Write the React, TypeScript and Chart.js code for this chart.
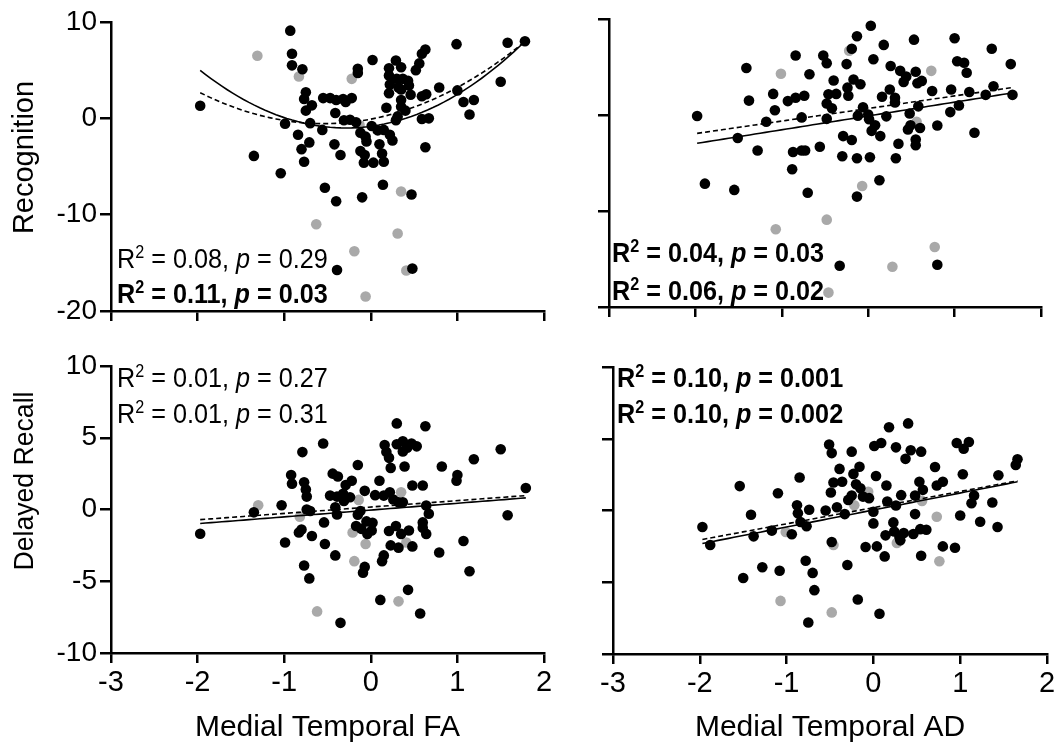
import React, { useEffect, useRef } from "react";
import { Chart, registerables } from "chart.js";

Chart.register(...registerables);

const FONT = "'Liberation Sans', Arial, Helvetica, sans-serif";

// ---------- data ----------
const xRange = [-3, 2];
const recogRange = [-20, 10];
const recallRange = [-10, 10];
const xTitles = ["Medial Temporal FA", "Medial Temporal AD"];
const yTitles = ["Recognition", "Delayed Recall"];

const faRecogBlack: number[][] = [
  [-1.97, 1.3], [-0.93, 9.1], [-0.91, 6.7], [-0.91, 5.5], [-0.79, 5.1], [-0.75, 2.7], [-0.77, 2.0], [-0.68, 1.35],
  [-0.75, 0.8], [-0.55, 2.1], [-0.99, -0.55], [-0.7, -0.5], [-0.56, -1.2], [-0.84, -1.7], [-0.71, -2.5], [-0.8, -3.2],
  [-0.77, -4.5], [-1.35, -3.9], [-1.04, -5.7], [-0.53, -7.2], [-0.47, 2.1], [-0.4, 1.9], [-0.32, 2.0], [-0.29, 1.7],
  [-0.22, 2.1], [-0.41, 0.55], [-0.31, -0.2], [-0.24, -0.15], [-0.17, -0.4], [-0.42, -2.7], [-0.35, -3.8], [-0.4, -8.6],
  [-0.1, -8.2], [0.14, -6.9], [0.47, -7.9], [-0.39, -15.75], [0.48, -15.6], [-0.15, 5.15], [-0.15, 4.7], [0.02, 6.05],
  [0.29, 6.0], [0.21, 5.2], [0.35, 5.3], [0.21, 4.45], [0.3, 4.1], [0.37, 4.1], [0.43, 3.9], [0.22, 3.5], [0.32, 3.2],
  [0.35, 3.0], [0.44, 3.4], [0.21, 2.6], [0.46, 2.45], [0.35, 1.9], [0.35, 1.2], [0.4, 0.8], [0.18, 1.1], [0.31, 0.2],
  [0.29, -0.2], [0.52, 5.0], [0.56, 5.7], [0.59, 6.7], [0.63, 7.15], [0.59, 2.3], [0.64, 2.5], [0.59, -0.07], [0.67, 0.0],
  [0.63, -3.0], [0.79, 3.2], [0.99, 7.7], [1.0, 2.9], [1.07, 1.7], [1.19, 1.9], [1.14, 0.4], [1.5, 3.8], [1.58, 7.85],
  [1.78, 8.0], [0.01, -0.8], [0.08, -1.25], [0.15, -1.2], [-0.12, -1.5], [-0.06, -1.9], [-0.05, -2.4], [0.1, -2.7],
  [0.22, -1.7], [0.25, -2.3], [-0.12, -3.4], [-0.07, -3.8], [0.13, -3.65], [-0.08, -4.6], [0.03, -4.6], [0.15, -4.5],
];
const faRecogGray: number[][] = [
  [-1.31, 6.5], [-0.83, 4.35], [-0.63, -11.0], [-0.22, 4.1], [-0.13, -0.7], [0.35, -7.6], [0.31, -11.95],
  [-0.19, -13.8], [0.41, -15.8], [-0.06, -18.5],
];

const adRecogBlack: number[][] = [
  [-1.98, -0.1], [-1.89, -7.15], [-1.55, -7.8], [-1.41, 4.9], [-1.38, 1.5], [-1.51, -2.4], [-1.28, -3.7], [-1.18, -0.7],
  [-1.1, 2.2], [-1.08, 0.5], [-0.93, 1.45], [-0.84, 1.8], [-0.74, 2.0], [-0.77, -0.25], [-0.84, 6.2], [-0.68, 4.25],
  [-0.88, -5.65], [-0.87, -3.85], [-0.77, -3.7], [-0.73, -3.7], [-0.7, -8.1], [-0.56, -3.3], [-0.52, 6.2], [-0.48, 5.4],
  [-0.4, 3.6], [-0.46, 2.15], [-0.37, 2.2], [-0.48, 1.2], [-0.42, 0.7], [-0.48, -0.4], [-0.3, -4.3], [-0.29, -2.2],
  [-0.19, -2.6], [-0.13, -4.5], [0.02, -4.4], [-0.13, -8.5], [0.13, -6.8], [-0.33, -15.7], [0.8, -15.6], [-0.25, 5.3],
  [-0.19, 6.9], [-0.13, 8.2], [0.03, 9.3], [0.18, 7.3], [0.06, 5.8], [-0.24, 2.85], [-0.23, 2.0], [-0.17, 3.7],
  [-0.09, 3.2], [-0.06, 0.8], [-0.12, -0.07], [0.0, 0.04], [0.01, -0.45], [0.04, -1.65], [0.08, -1.07], [0.14, -2.2],
  [0.26, 5.1], [0.16, 1.9], [0.25, 2.65], [0.31, 1.8], [0.31, 1.3], [0.21, -0.14], [0.35, -3.0], [0.32, -4.5],
  [0.37, 4.6], [0.44, 4.0], [0.41, 3.45], [0.55, 4.5], [0.57, 3.3], [0.62, 3.55], [0.53, 7.85], [0.48, 0.15],
  [0.58, 0.9], [0.49, -1.07], [0.46, -1.5], [0.6, -1.35], [0.55, -2.55], [0.55, -3.15], [0.74, 2.5], [0.8, -1.1],
  [0.95, 0.3], [0.96, 2.65], [1.0, 8.0], [1.03, 5.6], [1.11, 5.45], [1.14, 4.4], [1.05, 1.0], [1.17, 2.4],
  [1.23, -1.85], [1.36, 2.1], [1.43, 6.9], [1.45, 3.0], [1.65, 5.3], [1.67, 2.1],
];
const adRecogGray: number[][] = [
  [-1.01, 4.3], [-1.07, -11.9], [-0.22, 6.7], [0.73, 4.6], [0.56, -0.7], [-0.07, -7.4], [-0.48, -10.9],
  [0.77, -13.75], [0.28, -15.8], [-0.46, -18.5],
];

const faRecallBlack: number[][] = [
  [-1.97, -1.69], [-1.35, -0.2], [-1.03, 0.3], [-0.79, 4.0], [-0.92, 2.4], [-0.91, 1.8], [-0.77, 1.9], [-0.75, 1.4],
  [-0.74, 0.9], [-0.74, 0.0], [-0.7, -0.1], [-0.8, -1.4], [-0.83, -1.6], [-0.68, -1.85], [-0.99, -2.3], [-0.77, -3.9],
  [-0.71, -4.8], [-0.55, 4.6], [-0.54, -0.9], [-0.53, -2.4], [-0.47, 0.97], [-0.44, 2.5], [-0.38, 2.3], [-0.29, 1.7],
  [-0.22, 2.0], [-0.39, 0.9], [-0.32, 1.1], [-0.31, 0.6], [-0.24, 0.85], [-0.41, 0.16], [-0.39, -0.35], [-0.41, -3.2],
  [-0.35, -7.9], [-0.15, 3.1], [-0.07, 1.3], [-0.12, -0.1], [-0.15, -0.37], [-0.17, -1.15], [-0.11, -1.35],
  [-0.05, -0.83], [0.02, -0.93], [0.01, -1.46], [-0.04, -1.7], [-0.07, -4.0], [-0.09, -4.4], [0.05, 1.0], [0.1, 2.0],
  [0.16, 4.5], [0.18, 4.0], [0.21, 3.6], [0.23, 2.9], [0.3, 6.0], [0.3, 4.55], [0.37, 4.75], [0.37, 4.05], [0.42, 4.3],
  [0.47, 4.6], [0.53, 4.4], [0.39, 3.0], [0.63, 5.8], [0.15, 0.97], [0.22, 1.2], [0.26, 0.7], [0.32, 0.5], [0.37, 0.5],
  [0.48, 1.67], [0.6, 1.67], [0.64, 0.28], [0.67, -0.3], [0.6, -0.9], [0.6, -1.27], [0.64, -1.7], [0.21, -1.5],
  [0.29, -1.15], [0.35, -1.7], [0.44, -1.46], [0.23, -2.5], [0.32, -2.66], [0.48, -2.57], [0.15, -3.2], [0.13, -3.6],
  [0.11, -6.3], [0.43, -5.6], [0.57, -7.25], [0.82, 3.0], [0.79, -3.0], [1.0, 2.4], [0.99, 2.0], [1.07, -2.2],
  [1.14, -4.3], [1.19, 3.5], [1.5, 4.2], [1.58, -0.4], [1.79, 1.5],
];
const faRecallGray: number[][] = [
  [-1.3, 0.3], [-0.82, -0.5], [-0.62, -7.1], [-0.14, 0.67], [-0.21, -1.6], [-0.06, -2.4], [-0.19, -3.6],
  [0.35, 1.2], [0.41, -2.3], [0.32, -6.4],
];

const adRecallBlack: number[][] = [
  [-1.97, -1.15], [-1.88, -2.4], [-1.54, 1.7], [-1.5, -4.7], [-1.41, -0.3], [-1.38, -1.8], [-1.28, -3.95], [-1.17, -1.4],
  [-1.1, 1.2], [-1.08, -4.2], [-0.94, -1.65], [-0.88, 0.37], [-0.87, -0.2], [-0.85, 2.3], [-0.84, -0.8], [-0.77, -1.1],
  [-0.74, 0.05], [-0.78, -3.5], [-0.7, -4.35], [-0.68, -5.55], [-0.75, -7.8], [-0.51, 4.6], [-0.48, 4.0], [-0.25, 4.1],
  [-0.39, 2.9], [-0.46, 1.95], [-0.36, 2.0], [-0.49, 1.25], [-0.55, 0.0], [-0.42, 0.23], [-0.33, -0.25], [-0.48, -2.2],
  [-0.3, -3.8], [-0.18, -6.2], [0.07, -7.2], [-0.23, 2.55], [-0.16, 3.05], [-0.2, 1.83], [-0.15, 1.55], [-0.12, 0.97],
  [-0.25, 1.04], [-0.29, 0.74], [-0.05, 0.86], [0.03, 2.4], [0.01, 4.5], [0.09, 4.7], [0.18, 5.8], [0.4, 6.07],
  [0.26, 4.4], [0.43, 4.2], [0.37, 3.6], [0.55, 4.1], [0.15, 1.74], [0.0, -0.09], [0.0, -0.9], [0.16, 0.63],
  [0.26, 0.35], [0.32, 1.07], [0.23, -0.83], [0.24, -1.46], [0.3, -1.85], [0.31, -2.08], [0.35, -1.57], [0.14, -1.73],
  [0.04, -2.5], [-0.09, -2.54], [0.13, -3.2], [0.48, 1.04], [0.53, 2.0], [0.57, 1.44], [0.48, -0.25], [0.46, -1.64],
  [0.54, -1.3], [0.61, -1.34], [0.55, -3.15], [0.71, 3.03], [0.73, 1.74], [0.8, 2.0], [0.8, -2.5], [0.94, -2.6],
  [0.96, 4.7], [1.04, 4.3], [1.1, 4.77], [1.03, 2.53], [1.0, -0.35], [1.16, 1.04], [1.13, 0.51], [1.23, -0.78],
  [1.37, 0.56], [1.43, -1.15], [1.44, 2.46], [1.64, 3.17], [1.66, 3.57],
];
const adRecallGray: number[][] = [
  [-1.01, -1.5], [-1.07, -6.3], [-0.46, -2.4], [-0.22, 0.37], [-0.06, 1.3], [0.56, 0.67], [0.73, -0.44],
  [0.76, -3.54], [0.27, -2.26], [-0.48, -7.1],
];

// fit curves: coefficients [a, b, c] of y = a*x^2 + b*x + c
const faRecogFitSolid = [2.108, 1.2016, -0.829];
const faRecogFitDashed = [1.578, 1.7137, -0.0848];
const adRecogFitSolid = [0, 1.44, -0.1];
const adRecogFitDashed = [0, 1.309, 0.678];
const faRecallFitSolid = [0, 0.475, -0.04];
const faRecallFitDashed = [0, 0.446, 0.172];
const adRecallFitSolid = [0, 1.184, 0.034];
const adRecallFitDashed = [0, 1.126, 0.199];

type StatLine = { r2: string; p: string; bold: boolean };
const faRecogStats: StatLine[] = [
  { r2: "0.08", p: "0.29", bold: false },
  { r2: "0.11", p: "0.03", bold: true },
];
const adRecogStats: StatLine[] = [
  { r2: "0.04", p: "0.03", bold: true },
  { r2: "0.06", p: "0.02", bold: true },
];
const faRecallStats: StatLine[] = [
  { r2: "0.01", p: "0.27", bold: false },
  { r2: "0.01", p: "0.31", bold: false },
];
const adRecallStats: StatLine[] = [
  { r2: "0.10", p: "0.001", bold: true },
  { r2: "0.10", p: "0.002", bold: true },
];

// ---------- plugin for the R² / p annotations and the rotated y title ----------
const statPlugin = {
  id: "statText",
  afterDatasetsDraw(chart: any, _args: any, opts: any) {
    const { ctx, chartArea } = chart;
    const lines: StatLine[] = opts.lines || [];
    lines.forEach((ln, i) => {
      const x = chartArea.left + opts.dx;
      const y = chartArea.top + opts.baselines[i];
      ctx.save();
      ctx.translate(x, y);
      ctx.scale(0.9, 1);
      ctx.fillStyle = "#000";
      ctx.textBaseline = "alphabetic";
      ctx.textAlign = "left";
      const w = ln.bold ? "bold " : "";
      let cx = 0;
      const seg = (text: string, font: string, dy = 0) => {
        ctx.font = font;
        ctx.fillText(text, cx, dy);
        cx += ctx.measureText(text).width;
      };
      seg("R", `${w}28px ${FONT}`);
      seg("2", `${w}18px ${FONT}`, -10);
      seg(` = ${ln.r2}, `, `${w}28px ${FONT}`);
      seg("p", `italic ${w}28px ${FONT}`);
      seg(` = ${ln.p}`, `${w}28px ${FONT}`);
      ctx.restore();
    });
    if (opts.yTitle) {
      const t = opts.yTitle;
      ctx.save();
      ctx.translate(t.baseX, t.centerY);
      ctx.rotate(-Math.PI / 2);
      ctx.scale(t.stretch, 1);
      ctx.fillStyle = "#000";
      ctx.font = `${t.size}px ${FONT}`;
      ctx.textAlign = "center";
      ctx.textBaseline = "alphabetic";
      ctx.fillText(t.text, 0, 0);
      ctx.restore();
    }
  },
};

function curve(coef: number[], pts: number[][]) {
  const xs = pts.map((p) => p[0]);
  const lo = Math.min(...xs);
  const hi = Math.max(...xs);
  const out: { x: number; y: number }[] = [];
  const n = 60;
  for (let i = 0; i <= n; i++) {
    const x = lo + ((hi - lo) * i) / n;
    out.push({ x, y: coef[0] * x * x + coef[1] * x + coef[2] });
  }
  return out;
}

type PanelSpec = {
  left: number;
  top: number;
  width: number;
  height: number;
  padTop: number;
  padRight: number;
  yAxisW: number;
  xAxisH: number;
  black: number[][];
  gray: number[][];
  fitSolid: number[];
  fitDashed: number[];
  yRange: number[];
  yStep: number;
  showYLabels: boolean;
  showXLabels: boolean;
  yTitle?: { text: string; baseX: number; centerY: number; size: number; stretch: number };
  xTitle?: string;
  stats: StatLine[];
  statDx: number;
  statBaselines: number[];
};

function Panel({ spec }: { spec: PanelSpec }) {
  const ref = useRef<HTMLCanvasElement | null>(null);
  useEffect(() => {
    if (!ref.current) return;
    const chart = new Chart(ref.current, {
      type: "scatter",
      data: {
        datasets: [
          {
            type: "line",
            data: curve(spec.fitSolid, spec.black),
            borderColor: "#000",
            borderWidth: 1.6,
            pointRadius: 0,
            fill: false,
            tension: 0,
          } as any,
          {
            type: "line",
            data: curve(spec.fitDashed, spec.black),
            borderColor: "#000",
            borderWidth: 1.6,
            borderDash: [5, 3],
            pointRadius: 0,
            fill: false,
            tension: 0,
          } as any,
          {
            data: spec.black.map((p) => ({ x: p[0], y: p[1] })),
            backgroundColor: "#000",
            borderWidth: 0,
            pointRadius: 5.3,
          },
          {
            data: spec.gray.map((p) => ({ x: p[0], y: p[1] })),
            backgroundColor: "#a9a9a9",
            borderWidth: 0,
            pointRadius: 5.3,
          },
        ],
      },
      options: {
        responsive: false,
        maintainAspectRatio: false,
        animation: false,
        devicePixelRatio: 1,
        layout: { padding: { left: 0, right: spec.padRight, top: spec.padTop, bottom: 0 } },
        plugins: {
          legend: { display: false },
          tooltip: { enabled: false },
          statText: {
            lines: spec.stats,
            dx: spec.statDx,
            baselines: spec.statBaselines,
            yTitle: spec.yTitle,
          },
        } as any,
        scales: {
          x: {
            type: "linear",
            min: xRange[0],
            max: xRange[1],
            ticks: {
              stepSize: 1,
              display: spec.showXLabels,
              color: "#000",
              font: { family: FONT, size: 29 },
              padding: 3,
            },
            grid: {
              display: true,
              drawOnChartArea: false,
              drawTicks: true,
              tickLength: 10,
              tickWidth: 2.5,
              tickColor: "#000",
              color: "#000",
              lineWidth: 2.5,
            },
            border: { display: true, color: "#000", width: 2.5 },
            title: {
              display: !!spec.xTitle,
              text: spec.xTitle || "",
              color: "#000",
              font: { family: FONT, size: 30 },
              padding: { top: 0, bottom: 3 },
            },
            afterFit: (s: any) => {
              s.height = spec.xAxisH;
            },
          },
          y: {
            type: "linear",
            min: spec.yRange[0],
            max: spec.yRange[1],
            ticks: {
              stepSize: spec.yStep,
              display: spec.showYLabels,
              color: "#000",
              font: { family: FONT, size: 28 },
              padding: 3,
            },
            grid: {
              display: true,
              drawOnChartArea: false,
              drawTicks: true,
              tickLength: 11,
              tickWidth: 2.5,
              tickColor: "#000",
              color: "#000",
              lineWidth: 2.5,
            },
            border: { display: true, color: "#000", width: 2.5 },
            afterFit: (s: any) => {
              s.width = spec.yAxisW;
            },
          },
        } as any,
      },
      plugins: [statPlugin as any],
    });
    return () => chart.destroy();
  }, [spec]);
  return (
    <canvas
      ref={ref}
      width={spec.width}
      height={spec.height}
      style={{ position: "absolute", left: spec.left, top: spec.top, width: spec.width, height: spec.height }}
    />
  );
}

const panels: PanelSpec[] = [
  {
    left: 0, top: 0, width: 560, height: 340, padTop: 22, padRight: 16, yAxisW: 111, xAxisH: 29,
    black: faRecogBlack, gray: faRecogGray, fitSolid: faRecogFitSolid, fitDashed: faRecogFitDashed,
    yRange: recogRange, yStep: 10, showYLabels: true, showXLabels: false,
    yTitle: { text: yTitles[0], baseX: 33, centerY: 157.5, size: 29, stretch: 1 },
    stats: faRecogStats, statDx: 6, statBaselines: [246, 281],
  },
  {
    left: 560, top: 0, width: 500, height: 340, padTop: 19, padRight: 19, yAxisW: 49, xAxisH: 33,
    black: adRecogBlack, gray: adRecogGray, fitSolid: adRecogFitSolid, fitDashed: adRecogFitDashed,
    yRange: recogRange, yStep: 10, showYLabels: false, showXLabels: false,
    stats: adRecogStats, statDx: 3, statBaselines: [243, 281],
  },
  {
    left: 0, top: 340, width: 560, height: 409, padTop: 26, padRight: 16, yAxisW: 111, xAxisH: 96,
    black: faRecallBlack, gray: faRecallGray, fitSolid: faRecallFitSolid, fitDashed: faRecallFitDashed,
    yRange: recallRange, yStep: 5, showYLabels: true, showXLabels: true, xTitle: xTitles[0],
    yTitle: { text: yTitles[1], baseX: 33, centerY: 141, size: 28, stretch: 0.95 },
    stats: faRecallStats, statDx: 6, statBaselines: [21, 57],
  },
  {
    left: 560, top: 340, width: 500, height: 409, padTop: 27, padRight: 13, yAxisW: 53, xAxisH: 95,
    black: adRecallBlack, gray: adRecallGray, fitSolid: adRecallFitSolid, fitDashed: adRecallFitDashed,
    yRange: recallRange, yStep: 5, showYLabels: false, showXLabels: true, xTitle: xTitles[1],
    stats: adRecallStats, statDx: 4, statBaselines: [20, 56],
  },
];

export default function App() {
  return (
    <div style={{ position: "absolute", left: 0, top: 0, width: 1060, height: 749, background: "#fff" }}>
      {panels.map((p, i) => (
        <Panel key={i} spec={p} />
      ))}
    </div>
  );
}
